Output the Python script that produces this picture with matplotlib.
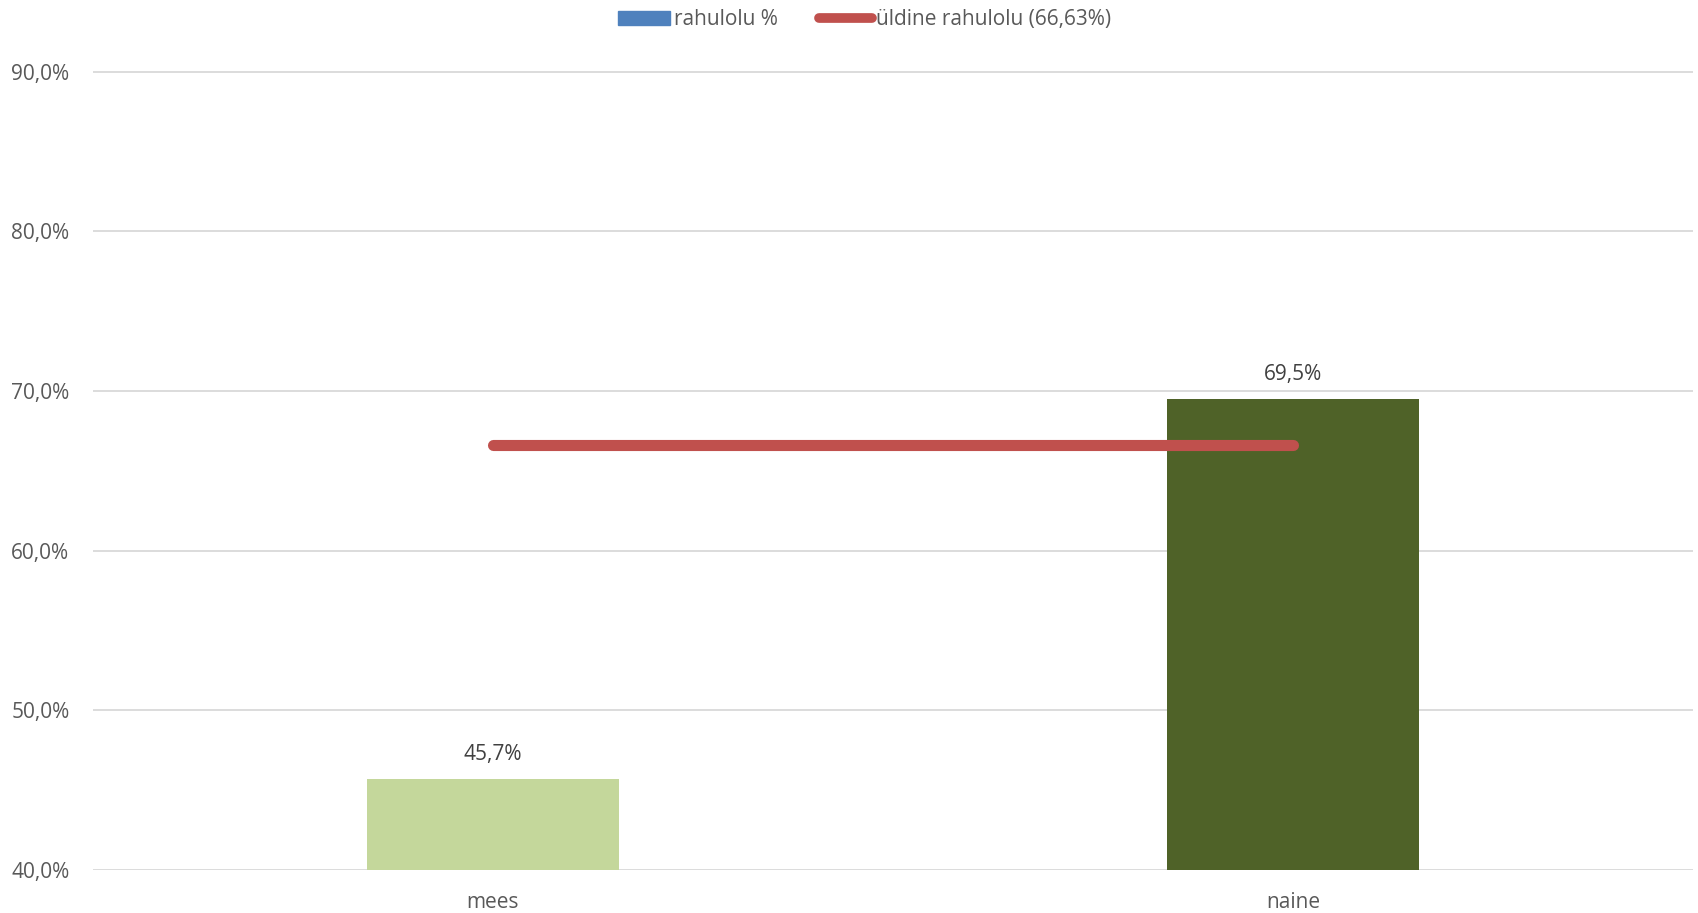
import matplotlib.pyplot as plt
from matplotlib.patches import Patch
from matplotlib.lines import Line2D

categories = ["mees", "naine"]
satisfaction = [45.7, 69.5]
overall = 66.63
bar_colors = ["#C4D79B", "#4F6228"]
y_ticks = [40, 50, 60, 70, 80, 90]

plt.rcParams["font.family"] = ["Open Sans", "DejaVu Sans"]
text_color = "#595959"

fig = plt.figure(figsize=(16.98, 9.13), dpi=100)
ax = fig.add_axes([93 / 1698, 1 - 870 / 913, 1600 / 1698, (870 - 71.5) / 913])

x = list(range(len(categories)))
ax.bar(x, [v - 40 for v in satisfaction], bottom=40, width=0.315,
       color=bar_colors, zorder=2)
for xi, v in zip(x, satisfaction):
    ax.annotate(f"{v:.1f}%".replace(".", ","), (xi, v), xytext=(0, 10),
                textcoords="offset points", ha="center", va="bottom",
                fontsize=15, color="#404040")

ax.plot(x, [overall] * len(x), color="#C0504D", linewidth=8,
        solid_capstyle="round", zorder=3)

ax.set_xlim(-0.5, 1.5)
ax.set_ylim(40, 90)
ax.set_yticks(y_ticks)
ax.set_yticklabels([f"{t:.1f}%".replace(".", ",") for t in y_ticks])
ax.set_xticks(x)
ax.set_xticklabels(categories)
ax.tick_params(length=0, labelsize=15, colors=text_color)
ax.tick_params(axis="x", pad=16)
ax.tick_params(axis="y", pad=17)
ax.grid(axis="y", color="#D9D9D9", linewidth=1.3, zorder=0)
for side in ax.spines.values():
    side.set_visible(False)

handles = [Patch(color="#4F81BD"),
           Line2D([0], [0], color="#C0504D", linewidth=7, solid_capstyle="round")]
fig.legend(handles, ["rahulolu %", "üldine rahulolu (66,63%)"],
           loc="center", bbox_to_anchor=(0.509, 1 - 19.5 / 913), ncol=2,
           frameon=False, fontsize=15, labelcolor=text_color,
           handlelength=2.5, handleheight=0.65, columnspacing=2.0,
           handletextpad=0.2)

fig.savefig("out.png", dpi=100)
